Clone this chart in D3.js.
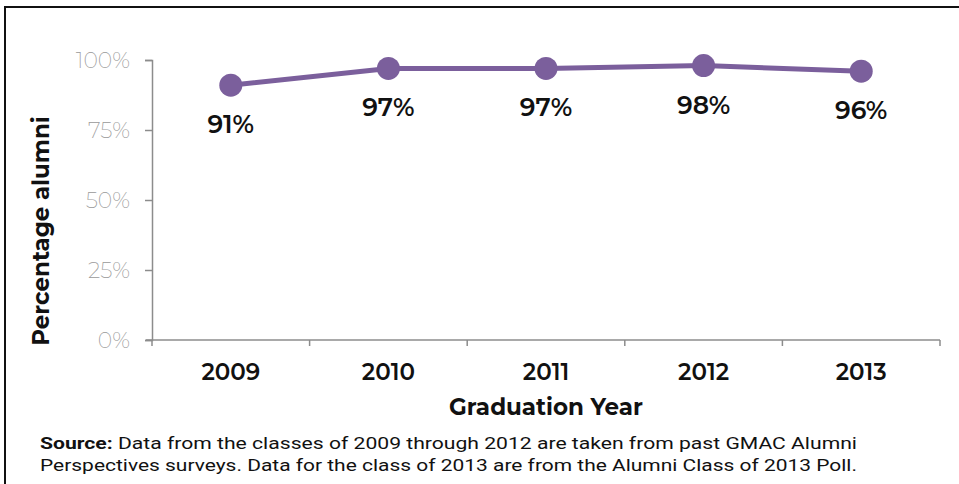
<!DOCTYPE html>
<html>
<head>
<meta charset="utf-8">
<script src="https://cdn.jsdelivr.net/npm/d3@7"></script>
<style>
  html, body { margin: 0; padding: 0; background: #fff; }
  svg { display: block; }
</style>
</head>
<body>
<svg id="chart" width="959" height="484"></svg>
<script>
// Share of alumni by graduation year
const years = ["2009", "2010", "2011", "2012", "2013"];
const percentages = [91, 97, 97, 98, 96];
const yTicks = [0, 25, 50, 75, 100];
const sourceLines = [
  { bold: "Source:", text: " Data from the classes of 2009 through 2012 are taken from past GMAC Alumni" },
  { bold: "", text: "Perspectives surveys. Data for the class of 2013 are from the Alumni Class of 2013 Poll." }
];

const svg = d3.select("#chart");
const W = 959, H = 484;
const plot = { left: 152, right: 940, top: 60, bottom: 340 };
const purple = "#7b5f9c";
const font = "Montserrat, 'Noto Sans', 'DejaVu Sans', sans-serif";

// frame around the figure
svg.append("path")
  .attr("d", `M5,${H} V7 H${W}`)
  .attr("fill", "none")
  .attr("stroke", "#111")
  .attr("stroke-width", 2);

const x = d3.scaleBand().domain(years).range([plot.left, plot.right]).padding(0);
const y = d3.scaleLinear().domain([0, 100]).range([plot.bottom, plot.top]);

// y axis
const yAxis = svg.append("g")
  .attr("transform", `translate(${plot.left},0)`)
  .call(d3.axisLeft(y).tickValues(yTicks).tickFormat(d => d + "%").tickSize(7).tickPadding(15));
yAxis.select(".domain").attr("stroke", "#8c8c8c").attr("stroke-width", 1.5);
yAxis.selectAll(".tick line").attr("stroke", "#8c8c8c").attr("stroke-width", 1.5);
yAxis.selectAll(".tick text")
  .attr("fill", "#999")
  .style("font-family", "'Montserrat Light', Montserrat, 'Noto Sans', sans-serif")
  .style("font-weight", 200)
  .style("font-size", "22px");

// x axis
const xAxis = svg.append("g")
  .attr("transform", `translate(0,${plot.bottom})`)
  .call(d3.axisBottom(x).tickSize(0).tickPadding(24));
xAxis.select(".domain").attr("stroke", "#8c8c8c").attr("stroke-width", 1.5)
  .attr("d", `M${plot.left - 6},0H${plot.right}`);
xAxis.selectAll(".tick text")
  .attr("fill", "#111")
  .style("font-family", font)
  .style("font-weight", 600)
  .style("font-size", "23px");

// category boundary ticks on the x axis
const bounds = years.map(d => x(d)).concat([x(years[years.length - 1]) + x.bandwidth()]);
svg.append("g").selectAll("line")
  .data(bounds)
  .join("line")
  .attr("x1", d => d).attr("x2", d => d)
  .attr("y1", plot.bottom).attr("y2", plot.bottom + 6)
  .attr("stroke", "#8c8c8c").attr("stroke-width", 1.5);

// axis titles
svg.append("text")
  .attr("x", (plot.left + plot.right) / 2)
  .attr("y", 415)
  .attr("text-anchor", "middle")
  .style("font-family", font)
  .style("font-weight", 700)
  .style("font-size", "23px")
  .attr("fill", "#111")
  .text("Graduation Year");

svg.append("text")
  .attr("transform", `translate(49,231) rotate(-90)`)
  .attr("text-anchor", "middle")
  .style("font-family", font)
  .style("font-weight", 700)
  .style("font-size", "23px")
  .attr("fill", "#111")
  .text("Percentage alumni");

// series line and markers
const cx = d => x(d) + x.bandwidth() / 2;
const series = years.map((d, i) => ({ year: d, value: percentages[i] }));

svg.append("path")
  .datum(series)
  .attr("fill", "none")
  .attr("stroke", purple)
  .attr("stroke-width", 5)
  .attr("d", d3.line().x(d => cx(d.year)).y(d => y(d.value)));

svg.append("g").selectAll("circle")
  .data(series)
  .join("circle")
  .attr("cx", d => cx(d.year))
  .attr("cy", d => y(d.value))
  .attr("r", 11.5)
  .attr("fill", purple);

// value labels
svg.append("g").selectAll("text")
  .data(series)
  .join("text")
  .attr("x", d => cx(d.year))
  .attr("y", d => y(d.value) + 48)
  .attr("text-anchor", "middle")
  .style("font-family", font)
  .style("font-weight", 600)
  .style("font-size", "25px")
  .attr("fill", "#111")
  .text(d => d.value + "%");

// source note
const note = svg.append("g");
sourceLines.forEach((ln, i) => {
  const t = note.append("text")
    .attr("x", 40)
    .attr("y", 449 + i * 22)
    .attr("textLength", 817)
    .attr("lengthAdjust", "spacingAndGlyphs")
    .style("font-family", "Roboto, 'Noto Sans', sans-serif")
    .style("font-size", "16.5px")
    .attr("fill", "#111");
  if (ln.bold) t.append("tspan").style("font-weight", 700).text(ln.bold);
  t.append("tspan").text(ln.text);
});
</script>
</body>
</html>
